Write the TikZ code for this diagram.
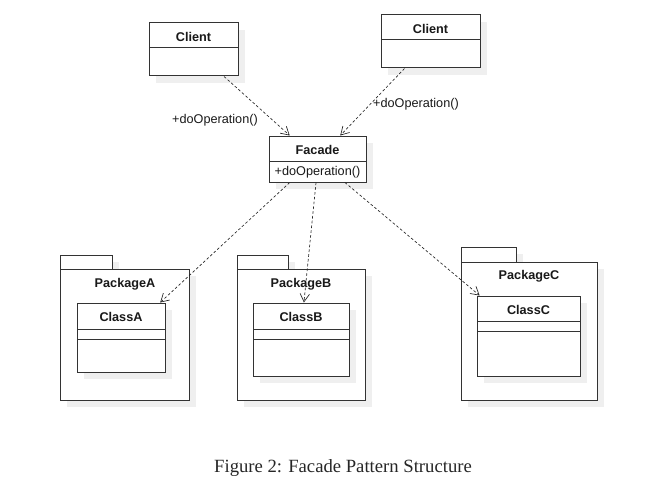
\documentclass[tikz,border=0pt]{standalone}
\usepackage{fontspec}
\setmainfont{Liberation Serif}
\newfontfamily\diagfont{Liberation Sans}
\usetikzlibrary{arrows.meta,shadows,fit,calc}
\definecolor{lineC}{HTML}{333333}
\definecolor{shadowC}{HTML}{EFEFEF}
\tikzset{
  umlbox/.style={draw=lineC, line width=0.75pt, fill=white, inner sep=0pt,
    drop shadow={shadow xshift=5.5pt, shadow yshift=-5.5pt, fill=shadowC, opacity=1}},
  sepline/.style={draw=lineC, line width=0.75pt},
  dep/.style={draw=black!85, line width=0.5pt, dash pattern=on 2pt off 1.6pt,
    -{Straight Barb[length=6pt, width=7pt, line width=0.5pt]}},
  title/.style={font=\diagfont\fontsize{9.5}{11}\selectfont\bfseries, text=black!90},
  oper/.style={font=\diagfont\fontsize{9.5}{11}\selectfont, text=black!90},
}
\begin{document}
\begin{tikzpicture}[x=0.75pt, y=-0.75pt]
\useasboundingbox (0,0) rectangle (653,492);

% Clients
\node[umlbox, fit={(149,23) (238,76)}] (c1) {};
\draw[sepline] (149,48) -- (238,48);
\node[title] (c1t) at (193.5,37) {Client};

\node[umlbox, fit={(381,15) (480,68)}] (c2) {};
\draw[sepline] (381,40) -- (480,40);
\node[title] (c2t) at (430.5,29) {Client};

% Facade
\node[umlbox, fit={(269,136) (366,182)}] (f) {};
\draw[sepline] (269,161) -- (366,161);
\node[title] (ft) at (317.5,149.5) {Facade};
\node[oper] (fo) at (317.5,172.5) {+doOperation()};

% Package A
\node[umlbox, fit={(60,255) (112,269)}] (pat) {};
\node[umlbox, fit={(60,269) (189,400)}] (pa) {};
\node[title] (pal) at (125,284) {PackageA};
\node[umlbox, fit={(77,303) (165,372)}] (ca) {};
\draw[sepline] (77,329) -- (165,329);
\draw[sepline] (77,339) -- (165,339);
\node[title] (cat) at (121,317) {ClassA};

% Package B
\node[umlbox, fit={(237,255) (288,269)}] (pbt) {};
\node[umlbox, fit={(237,269) (365,400)}] (pb) {};
\node[title] (pbl) at (301,284) {PackageB};
\node[umlbox, fit={(253,303) (349,376)}] (cb) {};
\draw[sepline] (253,329) -- (349,329);
\draw[sepline] (253,339) -- (349,339);
\node[title] (cbt) at (301,317) {ClassB};

% Package C
\node[umlbox, fit={(461,247) (516,262)}] (pct) {};
\node[umlbox, fit={(461,262) (597,400)}] (pc) {};
\node[title] (pcl) at (529,276) {PackageC};
\node[umlbox, fit={(477,296) (580,376)}] (cc) {};
\draw[sepline] (477,321) -- (580,321);
\draw[sepline] (477,331) -- (580,331);
\node[title] (cct) at (528.5,310) {ClassC};

% dependencies
\draw[dep] ($(c1.south west)!0.84!(c1.south east)$) -- ($(f.north west)!0.216!(f.north east)$);
\draw[dep] ($(c2.south west)!0.24!(c2.south east)$) -- ($(f.north west)!0.732!(f.north east)$);
\draw[dep] ($(f.south west)!0.216!(f.south east)$) -- ($(ca.north west)!0.94!(ca.north east)$);
\draw[dep] ($(f.south west)!0.485!(f.south east)$) -- ($(cb.north west)!0.53!(cb.north east)$);
\draw[dep] ($(f.south west)!0.78!(f.south east)$) -- ($(cc.north west)!0.03!(cc.north east)$);

\node[oper] (l1) at (215,120) {+doOperation()};
\node[oper] (l2) at (416,104) {+doOperation()};

% caption
\node[font=\fontsize{14}{16}\selectfont, text=black!85] (cap) at (343,468) {Figure 2: Facade Pattern Structure};
\end{tikzpicture}
\end{document}
